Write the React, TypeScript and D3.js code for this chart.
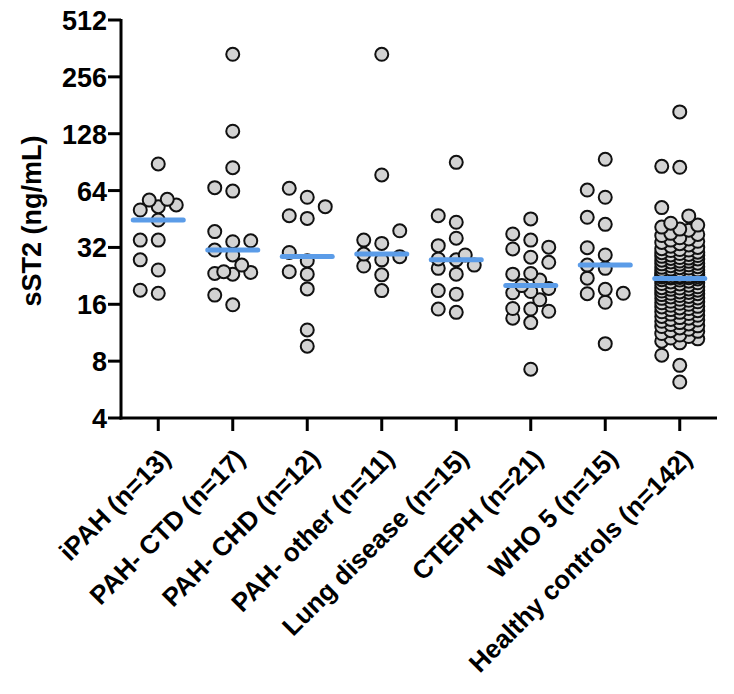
import React from "react";
import * as d3 from "d3";

const categories = [
  "iPAH (n=13)",
  "PAH- CTD (n=17)",
  "PAH- CHD (n=12)",
  "PAH- other (n=11)",
  "Lung disease (n=15)",
  "CTEPH (n=21)",
  "WHO 5 (n=15)",
  "Healthy controls (n=142)",
];

const iPAH = [88.5, 50.5, 53.7, 57.0, 57.5, 52.6, 44.7, 35.0, 35.0, 27.5, 24.3, 18.3, 19.0];
const pahCTD = [337, 132, 84.6, 66.3, 63.6, 38.8, 34.7, 34.3, 31.0, 29.2, 25.8, 23.8, 23.6, 23.3, 23.1, 17.9, 15.9];
const pahCHD = [65.8, 59.0, 52.6, 47.1, 45.6, 30.1, 27.2, 23.8, 23.1, 19.3, 11.7, 9.6];
const pahOther = [337, 77.4, 39.2, 35.0, 33.6, 29.5, 28.6, 27.5, 25.5, 22.9, 18.9];
const lungDisease = [90.3, 47.1, 43.5, 35.8, 32.7, 29.2, 27.8, 27.5, 25.8, 24.8, 23.1, 18.9, 18.1, 15.1, 14.5];
const cteph = [45.3, 37.7, 35.0, 32.1, 31.4, 28.4, 26.7, 23.3, 23.1, 21.5, 20.1, 19.4, 18.7, 18.4, 16.9, 15.2, 15.1, 14.7, 13.5, 12.8, 7.25];
const who5 = [93.7, 64.4, 59.0, 46.2, 42.4, 31.9, 29.2, 25.8, 24.8, 22.0, 19.2, 18.3, 18.2, 16.4, 9.9];
const healthyControls = [
  167, 86, 85, 52, 47, 43, 42, 41, 40, 39.5, 38, 37.5, 37, 36, 35.5, 35, 34.5, 34, 33.5, 33,
  32.5, 32, 31.5, 31, 30.8, 30.2, 30, 29.7, 29.2, 29, 28.7, 28.3, 28, 27.8, 27.4, 27, 26.8, 26.4,
  26.1, 25.9, 25.6, 25.3, 25, 24.9, 24.6, 24.3, 24.1, 24, 23.8, 23.6, 23.4, 23.2, 23, 22.9, 22.7,
  22.6, 22.5, 22.4, 22.3, 22.2, 22.1, 22.05, 31.2, 29.4, 28.1, 27.1, 26.2, 25.1, 24.2, 23.1, 22.4,
  21.8, 21.6, 21.5, 21.2, 21, 20.8, 20.6, 20.5, 20.2, 20, 19.8, 19.6, 19.5, 19.3, 19.2, 19, 18.8,
  18.6, 18.5, 18.3, 18.2, 18, 17.8, 17.6, 17.5, 17.3, 17.2, 17, 16.8, 16.6, 16.5, 16.3, 16.2, 16,
  15.8, 15.6, 15.5, 15.3, 15.2, 15, 14.8, 14.6, 14.5, 14.3, 14.2, 14, 13.8, 13.6, 13.5, 13.3, 13.2,
  13, 12.8, 12.6, 12.5, 12.3, 12.2, 12, 11.8, 11.6, 11.5, 11.2, 11, 10.8, 10.6, 10.5, 10.2, 10,
  8.6, 7.6, 6.2,
];

const groups = [iPAH, pahCTD, pahCHD, pahOther, lungDisease, cteph, who5, healthyControls];
const yTicks = [4, 8, 16, 32, 64, 128, 256, 512];

const W = 734;
const H = 694;
const R = 6.5;
const FONT = "Arial, 'Liberation Sans', Helvetica, sans-serif";

function swarm(values: number[], y: (v: number) => number) {
  const offsets = [0, -18, 18, -9, 9];
  const placed: { x: number; y: number; v: number }[] = [];
  const sorted = values.slice().sort((a, b) => a - b);
  for (const v of sorted) {
    const py = y(v);
    let best = 0;
    let bestD = -1;
    for (const o of offsets) {
      let minD = Infinity;
      for (const p of placed) {
        const d = Math.hypot(p.x - o, p.y - py);
        if (d < minD) minD = d;
      }
      if (minD >= 2 * R) {
        best = o;
        bestD = Infinity;
        break;
      }
      if (minD > bestD) {
        bestD = minD;
        best = o;
      }
    }
    placed.push({ x: best, y: py, v });
  }
  return placed;
}

export default function App() {
  const y = d3.scaleLog().base(2).domain([4, 512]).range([418, 20]);
  const x = d3.scaleBand<string>().domain(categories).range([121, 717]);
  const cx = (c: string) => (x(c) as number) + x.bandwidth() / 2;

  return (
    <svg width={W} height={H} style={{ position: "absolute", left: 0, top: 0, background: "#fff" }}>
      <rect width={W} height={H} fill="#fff" />
      {/* y axis */}
      <line x1={121} x2={121} y1={y(512) - 1} y2={y(4) + 1.5} stroke="#000" strokeWidth={3} />
      {yTicks.map((t) => (
        <g key={t}>
          <line x1={108} x2={121} y1={y(t)} y2={y(t)} stroke="#000" strokeWidth={3} />
          <text
            x={107}
            y={y(t) + 1}
            textAnchor="end"
            dominantBaseline="central"
            fontFamily={FONT}
            fontWeight="bold"
            fontSize={27}
          >
            {t}
          </text>
        </g>
      ))}
      <text
        transform={`translate(32,221) rotate(-90)`}
        textAnchor="middle"
        dominantBaseline="central"
        fontFamily={FONT}
        fontWeight="bold"
        fontSize={27}
      >
        sST2 (ng/mL)
      </text>
      {/* x axis */}
      <line x1={119.5} x2={717} y1={y(4)} y2={y(4)} stroke="#000" strokeWidth={3} />
      {categories.map((c) => (
        <g key={c}>
          <line x1={cx(c)} x2={cx(c)} y1={y(4)} y2={y(4) + 13} stroke="#000" strokeWidth={3} />
          <text
            transform={`translate(${cx(c) + 14},${y(4) + 42}) rotate(-45)`}
            textAnchor="end"
            fontFamily={FONT}
            fontWeight="bold"
            fontSize={26}
          >
            {c}
          </text>
        </g>
      ))}
      {/* points */}
      {categories.map((c, i) => {
        const pts = swarm(groups[i], (v) => y(v));
        const med = d3.median(groups[i]) as number;
        return (
          <g key={c}>
            {pts.map((p, j) => (
              <circle
                key={j}
                cx={cx(c) + p.x}
                cy={p.y}
                r={R}
                fill="#d3d3d3"
                stroke="#111"
                strokeWidth={2}
              />
            ))}
            <line
              x1={cx(c) - 25}
              x2={cx(c) + 25}
              y1={y(med)}
              y2={y(med)}
              stroke="#5b9ce8"
              strokeWidth={5}
              strokeLinecap="round"
            />
          </g>
        );
      })}
    </svg>
  );
}
